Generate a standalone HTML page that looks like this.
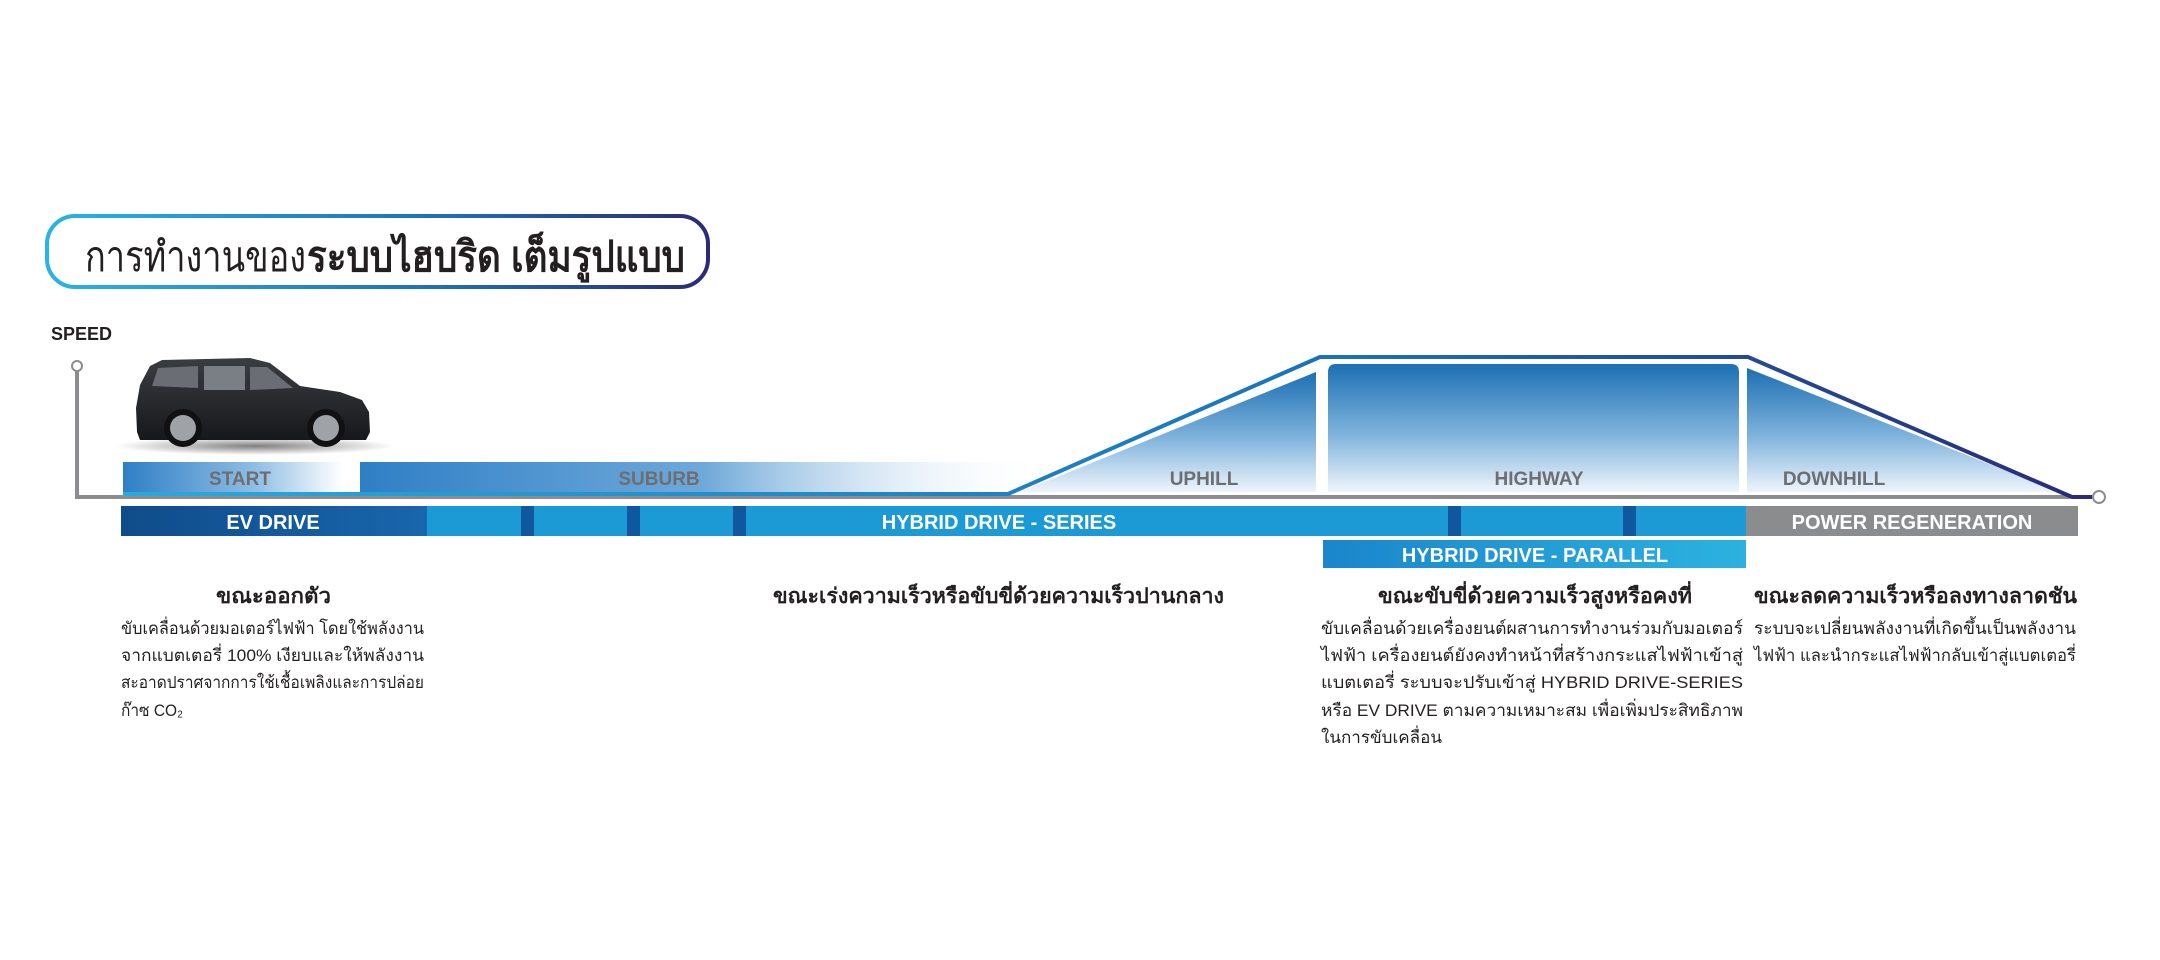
<!DOCTYPE html>
<html><head><meta charset="utf-8"><style>
html,body{margin:0;padding:0;background:#fff;}
svg{display:block;}
text{font-family:"Liberation Sans","DejaVu Sans",sans-serif;}
</style></head><body>
<svg width="2160" height="960" viewBox="0 0 2160 960" xmlns="http://www.w3.org/2000/svg">
<defs>
<linearGradient id="tb" x1="0" x2="1" y1="0" y2="0"><stop offset="0" stop-color="#29b3e6"/><stop offset="0.6" stop-color="#1f6fb5"/><stop offset="1" stop-color="#2b2a78"/></linearGradient>
<linearGradient id="st" x1="0" x2="1"><stop offset="0" stop-color="#2f7fc6"/><stop offset="0.6" stop-color="#8fbde3"/><stop offset="1" stop-color="#ffffff"/></linearGradient>
<linearGradient id="sb" x1="0" x2="1"><stop offset="0" stop-color="#2f7fc6"/><stop offset="0.5" stop-color="#6fa9d9"/><stop offset="1" stop-color="#ffffff" stop-opacity="0"/></linearGradient>
<linearGradient id="vt" x1="0" x2="0" y1="0" y2="1"><stop offset="0" stop-color="#1c6fb3"/><stop offset="0.55" stop-color="#7fb3dc"/><stop offset="1" stop-color="#eef5fb"/></linearGradient>
<linearGradient id="ln" x1="0" x2="1"><stop offset="0" stop-color="#29a9e0"/><stop offset="0.6" stop-color="#1a74ba"/><stop offset="1" stop-color="#2b2a78"/></linearGradient>
<linearGradient id="ev" x1="0" x2="1"><stop offset="0" stop-color="#0f4c8a"/><stop offset="1" stop-color="#1866ad"/></linearGradient>
<linearGradient id="par" x1="0" x2="1"><stop offset="0" stop-color="#1a86cb"/><stop offset="1" stop-color="#2cb2df"/></linearGradient>
<linearGradient id="car" x1="0" x2="0" y1="0" y2="1"><stop offset="0" stop-color="#3a3d42"/><stop offset="1" stop-color="#16181b"/></linearGradient>
<radialGradient id="sh" cx="0.5" cy="0.5" r="0.5"><stop offset="0" stop-color="#000" stop-opacity="0.5"/><stop offset="1" stop-color="#000" stop-opacity="0"/></radialGradient>
</defs>

<rect x="47" y="216" width="661" height="71" rx="28" fill="#fff" stroke="url(#tb)" stroke-width="4"/>
<text x="85" y="271" font-size="42" fill="#231f20" textLength="221" lengthAdjust="spacingAndGlyphs">การทำงานของ</text>
<text x="307" y="271" font-size="42" font-weight="bold" fill="#231f20" textLength="378" lengthAdjust="spacingAndGlyphs">ระบบไฮบริด เต็มรูปแบบ</text>

<text x="51" y="340" font-size="18" font-weight="bold" fill="#231f20">SPEED</text>

<!-- car -->
<ellipse cx="255" cy="446" rx="140" ry="9" fill="url(#sh)"/>
<path d="M137 432 L136 408 L140 385 L150 366 L162 360 L250 358 L270 363 L300 386 L340 392 L362 400 L369 412 L370 432 L366 440 L140 440 Z" fill="url(#car)"/>
<path d="M152 386 L158 368 L198 366 L198 388 Z" fill="#6a6e74"/>
<path d="M204 366 L245 366 L245 390 L204 390 Z" fill="#7a7f86"/>
<path d="M250 367 L267 367 L293 388 L250 390 Z" fill="#6a6e74"/>
<circle cx="183" cy="428" r="19" fill="#111"/><circle cx="183" cy="428" r="13" fill="#9ea3a8"/>
<circle cx="326" cy="428" r="19" fill="#111"/><circle cx="326" cy="428" r="13" fill="#9ea3a8"/>

<rect x="123" y="462" width="219" height="30" fill="url(#st)"/>
<rect x="360" y="462" width="690" height="30" fill="url(#sb)"/>
<path d="M1020 492 L1316 372 L1316 492 Z" fill="url(#vt)"/>
<path d="M1328 372 Q1328 364 1336 364 L1731 364 Q1739 364 1739 372 L1739 492 L1328 492 Z" fill="url(#vt)"/>
<path d="M1747 368 L2060 492 L1747 492 Z" fill="url(#vt)"/>

<text x="240" y="485" font-size="19" font-weight="bold" fill="#6d6e71" text-anchor="middle">START</text>
<text x="659" y="485" font-size="19" font-weight="bold" fill="#6d6e71" text-anchor="middle">SUBURB</text>
<text x="1204" y="485" font-size="19" font-weight="bold" fill="#6d6e71" text-anchor="middle">UPHILL</text>
<text x="1539" y="485" font-size="19" font-weight="bold" fill="#6d6e71" text-anchor="middle">HIGHWAY</text>
<text x="1834" y="485" font-size="19" font-weight="bold" fill="#6d6e71" text-anchor="middle">DOWNHILL</text>

<polyline points="77,368 77,497 2070,497" fill="none" stroke="#8a8c8e" stroke-width="4"/>
<circle cx="77" cy="366" r="5" fill="#fff" stroke="#8a8c8e" stroke-width="2"/>
<circle cx="2099" cy="497" r="6" fill="#fff" stroke="#8a8c8e" stroke-width="2"/>
<path d="M123 494 L1008 494 L1320 357 L1748 357 L2072 497 L2092 497" fill="none" stroke="url(#ln)" stroke-width="4" stroke-linejoin="round"/>

<rect x="121" y="506" width="306" height="30" fill="url(#ev)"/>
<rect x="427" y="506" width="1319" height="30" fill="#1b9ad6"/>
<rect x="521" y="506" width="13" height="30" fill="#0f58a0"/>
<rect x="627" y="506" width="13" height="30" fill="#0f58a0"/>
<rect x="733" y="506" width="13" height="30" fill="#0f58a0"/>
<rect x="1448" y="506" width="13" height="30" fill="#0f58a0"/>
<rect x="1623" y="506" width="13" height="30" fill="#0f58a0"/>
<rect x="1746" y="506" width="332" height="30" fill="#8a8c8e"/>
<text x="273" y="529" font-size="20" font-weight="bold" fill="#fff" text-anchor="middle">EV DRIVE</text>
<text x="999" y="529" font-size="20" font-weight="bold" fill="#fff" text-anchor="middle">HYBRID DRIVE - SERIES</text>
<text x="1912" y="529" font-size="20" font-weight="bold" fill="#fff" text-anchor="middle">POWER REGENERATION</text>
<rect x="1323" y="540" width="423" height="28" fill="url(#par)"/>
<text x="1535" y="562" font-size="20" font-weight="bold" fill="#fff" text-anchor="middle">HYBRID DRIVE - PARALLEL</text>

<g font-size="21" font-weight="bold" fill="#231f20">
<text x="216" y="603" textLength="115" lengthAdjust="spacingAndGlyphs">ขณะออกตัว</text>
<text x="773" y="603" textLength="451" lengthAdjust="spacingAndGlyphs">ขณะเร่งความเร็วหรือขับขี่ด้วยความเร็วปานกลาง</text>
<text x="1378" y="603" textLength="314" lengthAdjust="spacingAndGlyphs">ขณะขับขี่ด้วยความเร็วสูงหรือคงที่</text>
<text x="1754" y="603" textLength="323" lengthAdjust="spacingAndGlyphs">ขณะลดความเร็วหรือลงทางลาดชัน</text>
</g>

<g font-size="17" fill="#231f20">
<text x="121" y="634" textLength="303" lengthAdjust="spacingAndGlyphs">ขับเคลื่อนด้วยมอเตอร์ไฟฟ้า โดยใช้พลังงาน</text>
<text x="121" y="661" textLength="303" lengthAdjust="spacingAndGlyphs">จากแบตเตอรี่ 100% เงียบและให้พลังงาน</text>
<text x="121" y="688" textLength="303" lengthAdjust="spacingAndGlyphs">สะอาดปราศจากการใช้เชื้อเพลิงและการปล่อย</text>
<text x="121" y="716" textLength="62" lengthAdjust="spacingAndGlyphs">ก๊าซ CO₂</text>

<text x="1321" y="634" textLength="422" lengthAdjust="spacingAndGlyphs">ขับเคลื่อนด้วยเครื่องยนต์ผสานการทำงานร่วมกับมอเตอร์</text>
<text x="1321" y="661" textLength="422" lengthAdjust="spacingAndGlyphs">ไฟฟ้า เครื่องยนต์ยังคงทำหน้าที่สร้างกระแสไฟฟ้าเข้าสู่</text>
<text x="1321" y="688" textLength="422" lengthAdjust="spacingAndGlyphs">แบตเตอรี่ ระบบจะปรับเข้าสู่ HYBRID DRIVE-SERIES</text>
<text x="1321" y="716" textLength="422" lengthAdjust="spacingAndGlyphs">หรือ EV DRIVE ตามความเหมาะสม เพื่อเพิ่มประสิทธิภาพ</text>
<text x="1321" y="743" textLength="121" lengthAdjust="spacingAndGlyphs">ในการขับเคลื่อน</text>

<text x="1754" y="634" textLength="322" lengthAdjust="spacingAndGlyphs">ระบบจะเปลี่ยนพลังงานที่เกิดขึ้นเป็นพลังงาน</text>
<text x="1754" y="661" textLength="322" lengthAdjust="spacingAndGlyphs">ไฟฟ้า และนำกระแสไฟฟ้ากลับเข้าสู่แบตเตอรี่</text>
</g>
</svg>
</body></html>
